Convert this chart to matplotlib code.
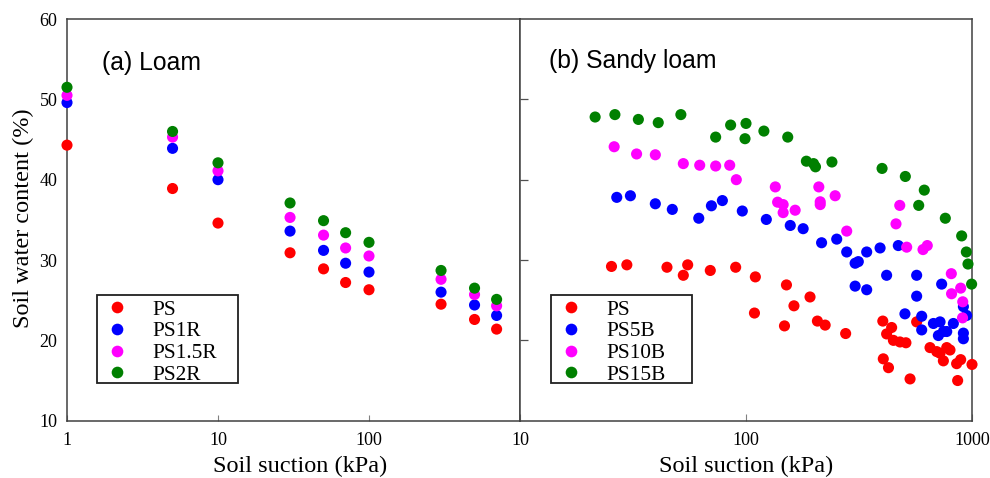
import matplotlib
matplotlib.use("Agg")
import matplotlib.pyplot as plt
from matplotlib.lines import Line2D
from matplotlib.patches import Rectangle

# ---------------- Data: (a) Loam ----------------
loam_suction = [1, 5, 10, 30, 50, 70, 100, 300, 500, 700]
loam_PS     = [44.3, 38.9, 34.6, 30.9, 28.9, 27.2, 26.3, 24.5, 22.6, 21.4]
loam_PS1R   = [49.6, 43.9, 40.0, 33.6, 31.2, 29.6, 28.5, 26.0, 24.4, 23.1]
loam_PS15R  = [50.5, 45.3, 41.1, 35.3, 33.1, 31.5, 30.5, 27.6, 25.7, 24.3]
loam_PS2R   = [51.5, 46.0, 42.1, 37.1, 34.9, 33.4, 32.2, 28.7, 26.5, 25.1]

# ---------------- Data: (b) Sandy loam ----------------
sl_PS_x = [25.4, 29.7, 44.7, 55.2, 52.8, 69.5, 90.0, 110, 151, 109, 163, 192, 148,
           207, 224, 276, 403, 441, 419, 449, 480, 510, 569, 405, 427, 532, 652,
           698, 722, 747, 773, 799, 855, 891, 864, 1000]
sl_PS_y = [29.2, 29.4, 29.1, 29.4, 28.1, 28.7, 29.1, 27.9, 26.9, 23.4, 24.3, 25.4, 21.8,
           22.4, 21.9, 20.85, 22.4, 21.6, 20.8, 20.0, 19.8, 19.7, 22.3, 17.7, 16.6, 15.2, 19.1,
           18.6, 18.4, 17.45, 19.1, 18.8, 17.1, 17.6, 15.0, 17.0]

sl_PS5B_x = [26.8, 30.8, 39.7, 47.2, 61.8, 70.3, 78.6, 96.3, 123, 157, 179, 216, 252,
             279, 304, 314, 304, 342, 342, 392, 472, 419, 569, 569, 734, 505, 599,
             599, 675, 722, 747, 773, 827, 916, 916, 916, 947, 710]
sl_PS5B_y = [37.8, 38.0, 37.0, 36.3, 35.2, 36.75, 37.4, 36.1, 35.05, 34.3, 33.9, 32.15, 32.6,
             31.0, 29.6, 29.8, 26.75, 26.3, 31.0, 31.5, 31.8, 28.1, 28.1, 25.5, 27.0, 23.3, 23.0,
             21.3, 22.1, 22.3, 21.1, 21.1, 22.1, 20.9, 20.2, 24.2, 23.1, 20.6]

sl_PS10B_x = [26.1, 32.8, 39.7, 52.8, 62.4, 73.4, 84.7, 90.6, 134.8, 138, 146, 146, 165,
              210, 213, 213, 248, 279, 479, 461, 514, 607, 634, 810, 812, 891, 910, 908]
sl_PS10B_y = [44.1, 43.2, 43.1, 42.0, 41.8, 41.7, 41.8, 40.0, 39.1, 37.2, 36.9, 35.9, 36.2,
              39.1, 37.25, 36.9, 38.0, 33.6, 36.8, 34.5, 31.6, 31.3, 31.8, 28.3, 25.8, 26.5, 24.8, 22.8]

sl_PS15B_x = [21.5, 26.3, 33.4, 40.9, 51.5, 73.4, 85.5, 100, 99, 120, 153, 185, 199,
              203, 240, 400, 507, 615, 581, 762, 900, 944, 960, 996]
sl_PS15B_y = [47.8, 48.1, 47.5, 47.1, 48.1, 45.3, 46.8, 47.0, 45.1, 46.05, 45.3, 42.3, 42.0,
              41.6, 42.2, 41.4, 40.4, 38.7, 36.8, 35.2, 33.0, 31.0, 29.5, 27.0]

loam_labels = ["PS", "PS1R", "PS1.5R", "PS2R"]
sl_labels = ["PS", "PS5B", "PS10B", "PS15B"]
colors = ["#FF0000", "#0000FF", "#FF00FF", "#008000"]

serif = ["Liberation Serif", "DejaVu Serif"]
sans = ["Liberation Sans", "DejaVu Sans"]
spine_col = "#404040"
S = 64
TICK_FS = 13
LABEL_FS = 17.5
LEG_FS = 15.3

W, H = 990, 478
AX_BOTTOM, AX_TOP = 420.7, 19.0
AX_H = AX_BOTTOM - AX_TOP

fig = plt.figure(figsize=(W/100, H/100), dpi=100)
axL = fig.add_axes([67/W, 1-AX_BOTTOM/H, 453/W, AX_H/H])
axR = fig.add_axes([520/W, 1-AX_BOTTOM/H, 452/W, AX_H/H])

for ax in (axL, axR):
    ax.set_xscale("log")
    ax.set_ylim(10, 60)
    for sp in ax.spines.values():
        sp.set_color(spine_col)
        sp.set_linewidth(1.1)

# Left panel
loam_series = [loam_PS, loam_PS1R, loam_PS15R, loam_PS2R]
for ys, c in zip(loam_series, colors):
    axL.scatter(loam_suction, ys, s=S, color=c, edgecolors="none", clip_on=False, zorder=3)
axL.set_xlim(1, 1000)
axL.set_xticks([1, 10, 100])
axL.set_xticklabels(["1", "10", "100"])
axL.set_yticks([10, 20, 30, 40, 50, 60])
axL.tick_params(axis="x", direction="in", length=4, width=0.8, color="#808080", pad=8,
                labelsize=TICK_FS)
axL.tick_params(axis="y", direction="in", length=0, pad=7, labelsize=TICK_FS)
for lab in axL.get_xticklabels() + axL.get_yticklabels():
    lab.set_fontfamily(serif)
axL.minorticks_off()
axL.set_xlabel("Soil suction (kPa)", fontsize=LABEL_FS, family=serif)
axL.xaxis.set_label_coords(0.514, -0.088)
axL.set_ylabel("Soil water content (%)", fontsize=LABEL_FS, family=serif)
axL.yaxis.set_label_coords(-0.073, 0.505)
axL.text(0.077, 0.891, "(a) Loam", transform=axL.transAxes, fontsize=17.8,
         family=sans, va="center", ha="left")

# Right panel
sl_series = [(sl_PS_x, sl_PS_y), (sl_PS5B_x, sl_PS5B_y),
             (sl_PS10B_x, sl_PS10B_y), (sl_PS15B_x, sl_PS15B_y)]
for (xs, ys), c in zip(sl_series, colors):
    axR.scatter(xs, ys, s=S, color=c, edgecolors="none", clip_on=False, zorder=3)
axR.set_xlim(10, 1000)
axR.set_xticks([10, 100, 1000])
axR.set_xticklabels(["10", "100", "1000"])
axR.set_yticks([20, 30, 40, 50])
axR.set_yticklabels([])
axR.tick_params(axis="x", direction="in", length=5, width=0.8, color="#808080", pad=8,
                labelsize=TICK_FS)
axR.tick_params(axis="y", direction="in", length=6, width=0.9, color="#505050")
for lab in axR.get_xticklabels():
    lab.set_fontfamily(serif)
axR.minorticks_off()
axR.set_xlabel("Soil suction (kPa)", fontsize=LABEL_FS, family=serif)
axR.xaxis.set_label_coords(0.5, -0.088)
axR.text(0.064, 0.896, "(b) Sandy loam", transform=axR.transAxes, fontsize=17.8,
         family=sans, va="center", ha="left")


def make_legend(ax, labels, ax_left_px, box_left_px):
    handles = [Line2D([], [], linestyle="none", marker="o", markersize=8.4,
                      markerfacecolor=c, markeredgecolor="none") for c in colors]
    leg_left = (box_left_px + 9.6 - ax_left_px) / 452.5
    rows_center = (AX_BOTTOM - 342.3) / AX_H
    leg = ax.legend(handles, labels, loc="center left", bbox_to_anchor=(leg_left, rows_center),
                    bbox_transform=ax.transAxes, borderaxespad=0, borderpad=0,
                    prop={"family": serif, "size": LEG_FS}, frameon=False,
                    handlelength=1.0, handletextpad=1.15, labelspacing=0.09)
    leg.set_zorder(5)
    x0 = (box_left_px - ax_left_px) / 452.5
    y0 = (AX_BOTTOM - 383.3) / AX_H
    rect = Rectangle((x0, y0), 141 / 452.5, (383.3 - 294.7) / AX_H,
                     transform=ax.transAxes, facecolor="white", edgecolor="#202020",
                     linewidth=1.3, zorder=4, clip_on=False)
    ax.add_patch(rect)
    return leg


make_legend(axL, loam_labels, 67, 96.7)
make_legend(axR, sl_labels, 520, 551)

fig.savefig("out.png", dpi=100)
